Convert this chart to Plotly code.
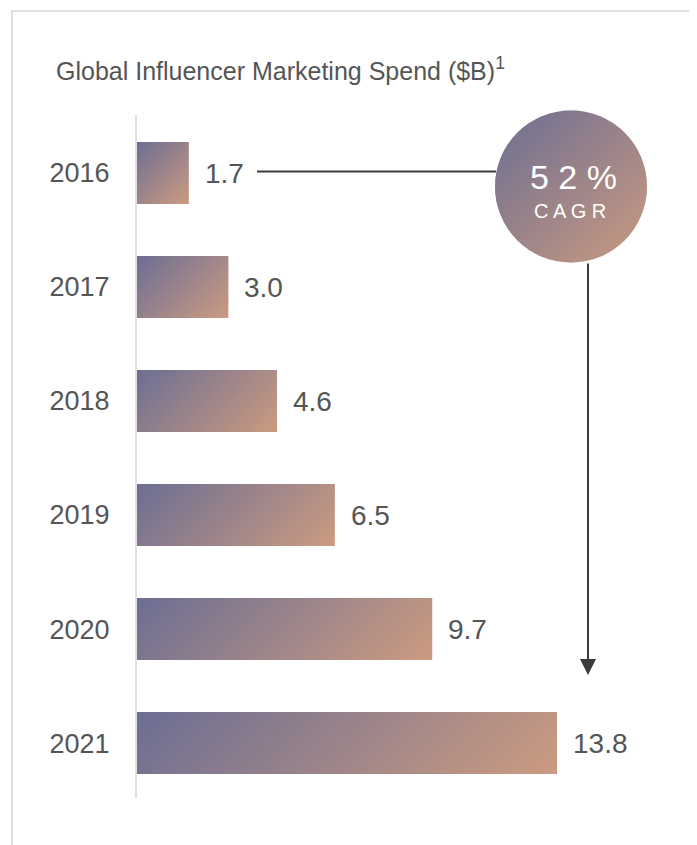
import plotly.graph_objects as go

# ---------------- data ----------------
years = ["2016", "2017", "2018", "2019", "2020", "2021"]
spend = [1.7, 3.0, 4.6, 6.5, 9.7, 13.8]
value_labels = ["1.7", "3.0", "4.6", "6.5", "9.7", "13.8"]
title_text = "Global Influencer Marketing Spend ($B)<sup>1</sup>"
cagr_value = "5 2 %"
cagr_label = "C A G R"

# ---------------- style ----------------
OFF = 8  # browser body margin
W, H = 697 - OFF, 845 - OFF
ML, MR, MT, MB = 137 - OFF, 0, 115 - OFF, 47
C0 = (108, 110, 147)
C1 = (204, 155, 128)
TEXT = "#555555"
DARK = "#3b3b3b"
GRID = "#e0e0e0"
FONT = "Liberation Sans"
BAR_HALF = 0.272
X_RANGE = [0, 18.40]
Y_RANGE = [5.482, -0.509]

pw = W - ML - MR
ph = H - MT - MB


def rgba(c, a=1.0):
    return "rgba(%d,%d,%d,%.3f)" % (c[0], c[1], c[2], a)


def px2paper_x(px):
    return (px - OFF - ML) / pw


def px2paper_y(py):
    return 1 - (py - OFF - MT) / ph


fig = go.Figure()

ys = list(range(len(years)))
px_per_x = pw / (X_RANGE[1] - X_RANGE[0])
px_per_y = ph / abs(Y_RANGE[0] - Y_RANGE[1])
bar_h_px = 2 * BAR_HALF * px_per_y
for i, v in zip(ys, spend):
    xs = [0, v, v, 0, 0]
    yy = [i - BAR_HALF, i - BAR_HALF, i + BAR_HALF, i + BAR_HALF, i - BAR_HALF]
    # horizontal gradient base
    fig.add_trace(go.Scatter(
        x=xs, y=yy, mode="lines", fill="toself", line=dict(width=0),
        fillgradient=dict(type="horizontal", colorscale=[[0, rgba(C0)], [1, rgba(C1)]]),
        hoverinfo="skip", showlegend=False))
    # vertical gradient overlay -> 45 degree diagonal look
    w_px = v * px_per_x
    alpha = bar_h_px / (w_px + bar_h_px)
    fig.add_trace(go.Scatter(
        x=xs, y=yy, mode="lines", fill="toself", line=dict(width=0),
        fillgradient=dict(type="vertical",
                          colorscale=[[0, rgba(C1, alpha)], [1, rgba(C0, alpha)]]),
        hoverinfo="skip", showlegend=False))

# value labels
for i, (v, t) in enumerate(zip(spend, value_labels)):
    fig.add_annotation(x=v, y=i, text=t, showarrow=False, xanchor="left",
                       yanchor="middle", xshift=14,
                       font=dict(family=FONT, size=28, color=TEXT))

# CAGR circle (overlay axes in paper-like space)
cx, cy = px2paper_x(571), px2paper_y(186.5)
fig.add_trace(go.Scatter(
    x=[cx], y=[cy], xaxis="x2", yaxis="y2", mode="markers", cliponaxis=False,
    marker=dict(size=152, color=rgba(C0), line=dict(width=0),
                gradient=dict(type="horizontal", color=rgba(C1))),
    hoverinfo="skip", showlegend=False))
fig.add_trace(go.Scatter(
    x=[cx], y=[cy], xaxis="x2", yaxis="y2", mode="markers", cliponaxis=False,
    opacity=0.5,
    marker=dict(size=152, color=rgba(C0), line=dict(width=0),
                gradient=dict(type="vertical", color=rgba(C1))),
    hoverinfo="skip", showlegend=False))

fig.add_annotation(x=px2paper_x(573), y=px2paper_y(177), xref="paper", yref="paper",
                   xanchor="center", yanchor="middle",
                   text=cagr_value, showarrow=False,
                   font=dict(family=FONT, size=34, color="white"))
fig.add_annotation(x=px2paper_x(570), y=px2paper_y(211), xref="paper", yref="paper",
                   xanchor="center", yanchor="middle",
                   text=cagr_label, showarrow=False,
                   font=dict(family=FONT, size=20, color="white"))

# connector line from 2016 label to circle
fig.add_shape(type="line", xref="paper", yref="paper",
              x0=px2paper_x(257), x1=px2paper_x(496),
              y0=px2paper_y(171.5), y1=px2paper_y(171.5),
              line=dict(color=DARK, width=2), layer="below")
# arrow down
fig.add_annotation(x=px2paper_x(588), y=px2paper_y(675), xref="x2", yref="y2",
                   ax=px2paper_x(588), ay=px2paper_y(262), axref="x2", ayref="y2",
                   text="", showarrow=True, arrowhead=2, arrowsize=1.6,
                   arrowwidth=2, arrowcolor=DARK)

# title
fig.add_annotation(x=px2paper_x(54), y=px2paper_y(69), xref="paper", yref="paper",
                   text=title_text, showarrow=False, xanchor="left", yanchor="middle",
                   font=dict(family=FONT, size=25, color=TEXT))

# frame lines
fig.add_shape(type="line", xref="paper", yref="paper",
              x0=px2paper_x(11), x1=px2paper_x(710), y0=px2paper_y(11), y1=px2paper_y(11),
              line=dict(color=GRID, width=2))
fig.add_shape(type="line", xref="paper", yref="paper",
              x0=px2paper_x(12), x1=px2paper_x(12), y0=px2paper_y(11), y1=px2paper_y(860),
              line=dict(color=GRID, width=2))

fig.update_layout(
    width=W, height=H,
    margin=dict(l=ML, r=MR, t=MT, b=MB),
    paper_bgcolor="white", plot_bgcolor="white",
    showlegend=False,
    xaxis=dict(range=X_RANGE, visible=False, fixedrange=True),
    yaxis=dict(range=Y_RANGE, tickvals=ys, ticktext=years, showgrid=False,
               zeroline=False, showline=True, linecolor=GRID, linewidth=2,
               ticks="", ticklabelstandoff=20,
               tickfont=dict(family=FONT, size=27, color=TEXT), fixedrange=True),
    xaxis2=dict(range=[0, 1], overlaying="x", visible=False, fixedrange=True),
    yaxis2=dict(range=[0, 1], overlaying="y", visible=False, fixedrange=True),
)

fig.write_html("out.html")
